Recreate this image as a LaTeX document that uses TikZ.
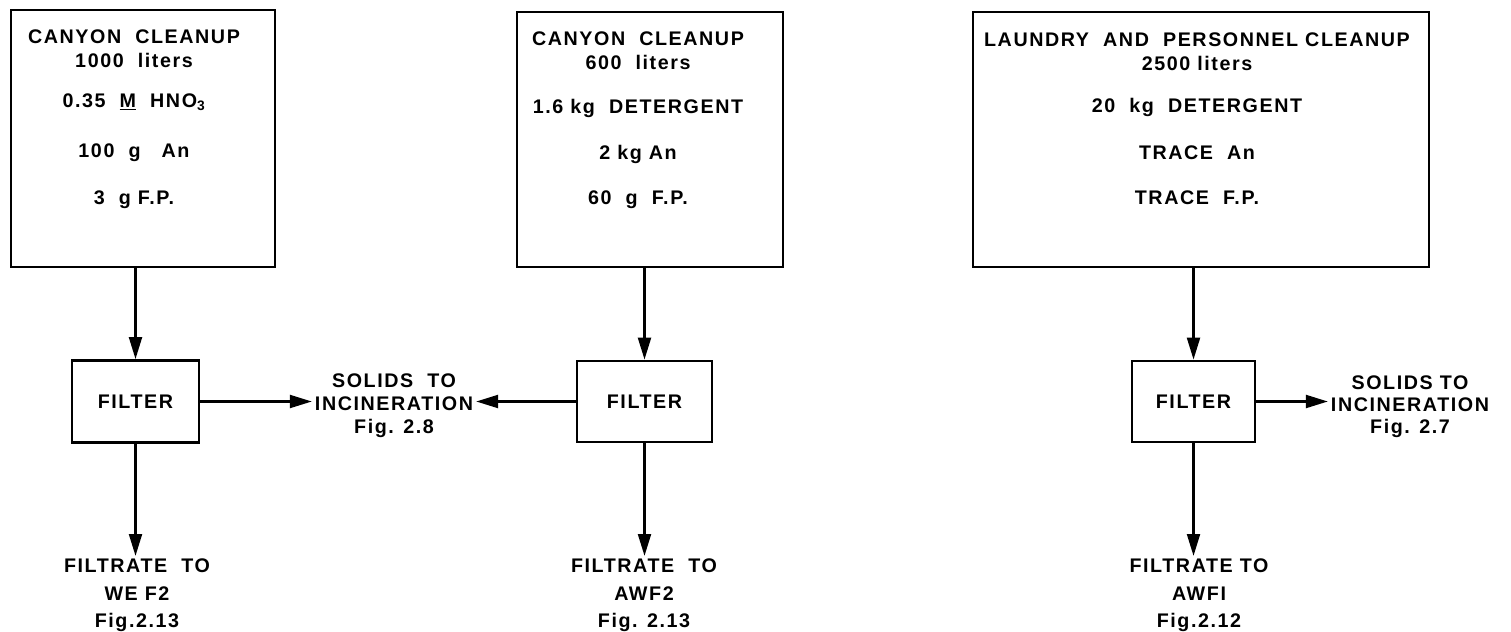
\documentclass[tikz,border=0pt]{standalone}
\usepackage{fontspec}
\setmainfont{Liberation Sans}[LetterSpace=8]
\usetikzlibrary{arrows.meta, positioning}

\begin{document}
\begin{tikzpicture}[
	x=0.025cm, y=-0.025cm,
	font=\bfseries\fontsize{14}{17}\selectfont,
	tank/.style={draw, line width=1.9pt, inner sep=0pt},
	filterbox/.style={draw, line width=1.9pt, inner sep=0pt},
	note/.style={align=center, inner sep=2pt},
	flow/.style={line width=1.9pt, -{Triangle[length=5.5mm, width=3.2mm]}}
	]
	
	\useasboundingbox (0,0) rectangle (1511,631);
	
	% Feed tanks
	\node[tank, minimum width=6.6cm, minimum height=6.425cm] (canyonA) at (143,138.5) {};
	\node[tank, minimum width=6.65cm, minimum height=6.375cm] (canyonB) at (650,139.5) {};
	\node[tank, minimum width=11.4cm, minimum height=6.375cm] (laundry) at (1201,139.5) {};
	
	% Contents
	\node[note, anchor=north] (canyonA-txt) at (134,27) {CANYON\ \ CLEANUP\\ 1000\ \ liters\\[11pt]
		0.35\ \ \underline{M}\ \ HNO\textsubscript{3}\\[19pt] 100\ \ g\ \ \ An\\[16pt] 3\ \ g\ F.P.};
	\node[note, anchor=north] (canyonB-txt) at (638,29) {CANYON\ \ CLEANUP\\ 600\ \ liters\\[14pt]
		1.6\ kg\ \ DETERGENT\\[16pt] 2\ kg\ An\\[15pt] 60\ \ g\ \ F.P.};
	\node[note, anchor=north] (laundry-txt) at (1197,30) {LAUNDRY\ \ AND\ \ PERSONNEL\ CLEANUP\\ 2500 liters\\[13pt]
		20\ \ kg\ \ DETERGENT\\[16pt] TRACE\ \ An\\[15pt] TRACE\ \ F.P.};
	
	% Filters
	\node[filterbox, minimum width=3.175cm, minimum height=2.05cm] (filtA) at (135.5,401.5) {FILTER};
	\node[filterbox, minimum width=3.375cm, minimum height=2.025cm] (filtB) at (644.5,401.5) {FILTER};
	\node[filterbox, minimum width=3.075cm, minimum height=2.025cm] (filtC) at (1193.5,401.5) {FILTER};
	
	% Destinations
	\node[note, anchor=north] (outA) at (137,556) {FILTRATE\ \ TO\\[2.5pt] WE F2\\[2.5pt] Fig.2.13};
	\node[note, anchor=north] (outB) at (644,556) {FILTRATE\ \ TO\\[2.5pt] AWF2\\[2.5pt] Fig. 2.13};
	\node[note, anchor=north] (outC) at (1199,556) {FILTRATE TO\\[2.5pt] AWFI\\[2.5pt] Fig.2.12};
	\node[note, font=\bfseries\fontsize{14}{16.5}\selectfont] (solA) at (394,406) {SOLIDS\ \ TO\\ INCINERATION\\ Fig. 2.8};
	\node[note, font=\bfseries\fontsize{14}{15.5}\selectfont] (solC) at (1410,407) {SOLIDS TO\\ INCINERATION\\ Fig. 2.7};
	
	% Flows
	\draw[flow] (canyonA.south -| filtA.north) -- (filtA.north);
	\draw[flow] (canyonB.south -| filtB.north) -- (filtB.north);
	\draw[flow] (laundry.south -| filtC.north) -- (filtC.north);
	\draw[flow] (filtA.south) -- (filtA.south |- outA.north);
	\draw[flow] (filtB.south) -- (filtB.south |- outB.north);
	\draw[flow] (filtC.south) -- (filtC.south |- outC.north);
	\draw[flow] (filtA.east) -- (solA.west |- filtA.east);
	\draw[flow] (filtB.west) -- (solA.east |- filtB.west);
	\draw[flow] (filtC.east) -- (solC.west |- filtC.east);
	
\end{tikzpicture}
\end{document}
